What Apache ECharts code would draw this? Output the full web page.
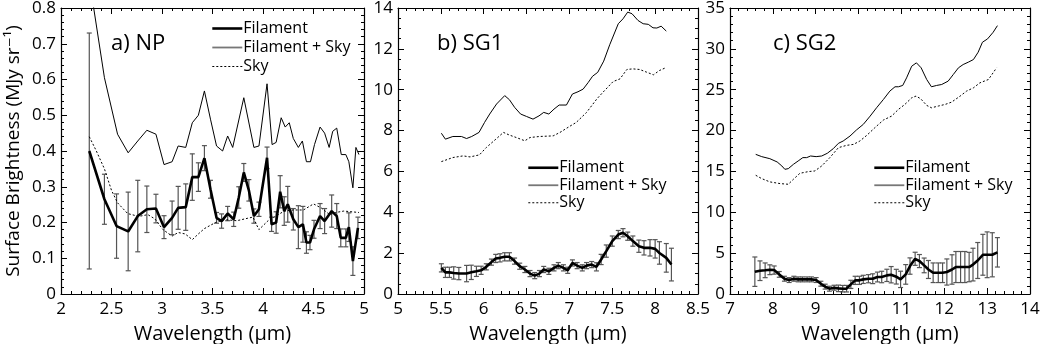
<!DOCTYPE html>
<html>
<head>
<meta charset="utf-8">
<script src="https://cdn.jsdelivr.net/npm/echarts@6/dist/echarts.min.js"></script>
<style>
html, body { margin: 0; padding: 0; background: #fff; }
#chart { width: 1040px; height: 344px; }
</style>
</head>
<body>
<div id="chart"></div>
<script>
// ---- a) NP ----
const npWl  = [2.28, 2.43, 2.55, 2.665, 2.76, 2.85, 2.94, 3.02, 3.10, 3.16, 3.235, 3.30, 3.36, 3.42, 3.48,
               3.54, 3.59, 3.65, 3.71, 3.76, 3.81, 3.86, 3.91, 3.96, 4.04, 4.085, 4.13, 4.17, 4.21, 4.245,
               4.30, 4.35, 4.395, 4.43, 4.465, 4.505, 4.565, 4.61, 4.68, 4.73, 4.77, 4.82, 4.85, 4.89, 4.94]
const npFil = [0.40, 0.265, 0.19, 0.175, 0.218, 0.237, 0.239, 0.187, 0.213, 0.241, 0.243, 0.327, 0.327, 0.38, 0.293,
               0.213, 0.204, 0.225, 0.209, 0.27, 0.34, 0.29, 0.218, 0.237, 0.381, 0.195, 0.20, 0.286, 0.232, 0.251,
               0.209, 0.187, 0.195, 0.144, 0.144, 0.181, 0.218, 0.204, 0.232, 0.218, 0.157, 0.157, 0.187, 0.092, 0.185]
const npErr = [0.33, 0.07, 0.09, 0.11, 0.10, 0.065, 0.04, 0.032, 0.047, 0.06, 0.065, 0.065, 0.04, 0.035, 0.025,
               0.015, 0.02, 0.02, 0.02, 0.03, 0.025, 0.03, 0.02, 0.02, 0.03, 0.02, 0.03, 0.045, 0.04, 0.05,
               0.03, 0.06, 0.05, 0.03, 0.02, 0.025, 0.035, 0.035, 0.045, 0.035, 0.025, 0.025, 0.04, 0.04, 0.03]
const npTotWl = [2.28, 2.43, 2.56, 2.665, 2.76, 2.85, 2.94, 3.02, 3.10, 3.16, 3.235, 3.30, 3.36, 3.42, 3.48,
                 3.54, 3.60, 3.65, 3.70, 3.81, 3.91, 3.96, 4.04, 4.09, 4.13, 4.18, 4.22, 4.26, 4.30, 4.35,
                 4.39, 4.43, 4.47, 4.51, 4.565, 4.61, 4.655, 4.69, 4.73, 4.775, 4.82, 4.85, 4.89, 4.92, 4.95]
const npTot = [0.88, 0.605, 0.447, 0.395, 0.428, 0.458, 0.447, 0.362, 0.37, 0.414, 0.41, 0.479, 0.50, 0.568, 0.489,
               0.414, 0.40, 0.442, 0.41, 0.549, 0.41, 0.414, 0.588, 0.418, 0.424, 0.493, 0.467, 0.479, 0.435, 0.41,
               0.428, 0.37, 0.37, 0.418, 0.467, 0.45, 0.41, 0.455, 0.464, 0.39, 0.39, 0.37, 0.297, 0.41, 0.39]
const npSkyWl = [2.28, 2.35, 2.43, 2.50, 2.56, 2.66, 2.77, 2.86, 2.93, 3.01, 3.10, 3.16, 3.23, 3.30, 3.36,
                 3.42, 3.53, 3.62, 3.74, 3.85, 3.90, 3.96, 4.05, 4.14, 4.21, 4.30, 4.40, 4.50, 4.58, 4.66,
                 4.72, 4.80, 4.95]
const npSky = [0.44, 0.40, 0.35, 0.29, 0.255, 0.225, 0.217, 0.222, 0.21, 0.18, 0.162, 0.172, 0.168, 0.152, 0.168,
               0.183, 0.20, 0.208, 0.205, 0.212, 0.215, 0.18, 0.205, 0.22, 0.232, 0.235, 0.235, 0.252, 0.24, 0.222,
               0.228, 0.232, 0.228]

// ---- b) SG1 ----
const sg1Wl  = [5.506, 5.553, 5.60, 5.65, 5.71, 5.80, 5.855, 5.915, 5.97, 6.03, 6.09, 6.14, 6.19, 6.245, 6.30,
                6.36, 6.42, 6.48, 6.54, 6.595, 6.65, 6.70, 6.76, 6.82, 6.87, 6.93, 6.98, 7.035, 7.09, 7.15,
                7.20, 7.26, 7.315, 7.37, 7.43, 7.50, 7.57, 7.625, 7.68, 7.74, 7.81, 7.87, 7.94, 8.0, 8.05,
                8.13, 8.19]
const sg1Fil = [1.28, 1.06, 1.06, 1.03, 1.0, 1.0, 1.06, 1.11, 1.16, 1.33, 1.56, 1.74, 1.77, 1.82, 1.82,
                1.61, 1.36, 1.20, 1.0, 0.90, 1.0, 1.20, 1.11, 1.28, 1.39, 1.28, 1.16, 1.52, 1.39, 1.28,
                1.39, 1.44, 1.33, 1.69, 2.10, 2.59, 2.91, 3.0, 2.83, 2.59, 2.34, 2.26, 2.26, 2.21, 2.01,
                1.77, 1.44]
const sg1Err = [0.2, 0.25, 0.25, 0.3, 0.3, 0.4, 0.35, 0.25, 0.2, 0.15, 0.15, 0.2, 0.2, 0.2, 0.2,
                0.15, 0.15, 0.15, 0.15, 0.15, 0.15, 0.15, 0.15, 0.15, 0.15, 0.15, 0.15, 0.15, 0.15, 0.15,
                0.15, 0.15, 0.2, 0.25, 0.3, 0.25, 0.2, 0.2, 0.2, 0.25, 0.3, 0.35, 0.4, 0.45, 0.55,
                0.7, 0.8]
const sg1TotWl = [5.506, 5.553, 5.64, 5.74, 5.80, 5.86, 5.945, 6.01, 6.07, 6.15, 6.245, 6.30, 6.36, 6.43, 6.50,
                  6.575, 6.645, 6.70, 6.76, 6.82, 6.88, 6.965, 7.035, 7.10, 7.16, 7.22, 7.27, 7.33, 7.40, 7.47,
                  7.57, 7.625, 7.68, 7.73, 7.80, 7.86, 7.92, 7.975, 8.02, 8.07, 8.13]
const sg1Tot = [7.87, 7.58, 7.71, 7.71, 7.61, 7.71, 7.91, 8.40, 8.81, 9.30, 9.71, 9.51, 9.14, 8.81, 8.69,
                8.56, 8.72, 8.89, 8.81, 9.05, 9.25, 9.25, 9.79, 9.90, 10.03, 10.36, 10.66, 10.85, 11.4, 12.2,
                13.23, 13.47, 13.8, 13.72, 13.39, 13.23, 13.2, 13.03, 13.02, 13.11, 12.87]
const sg1SkyWl = [5.506, 5.64, 5.76, 5.84, 5.95, 6.03, 6.15, 6.23, 6.30, 6.38, 6.48, 6.54, 6.65, 6.81, 6.89,
                  7.00, 7.08, 7.20, 7.32, 7.39, 7.51, 7.59, 7.67, 7.74, 7.82, 7.90, 7.98, 8.05, 8.12]
const sg1Sky = [6.48, 6.68, 6.76, 6.71, 6.81, 7.17, 7.61, 7.91, 7.78, 7.66, 7.50, 7.66, 7.71, 7.74, 7.91,
                8.2, 8.4, 8.89, 9.55, 9.87, 10.4, 10.53, 10.99, 11.02, 10.99, 10.86, 10.73, 10.94, 11.07]

// ---- c) SG2 ----
const sg2Wl  = [7.58, 7.70, 7.82, 7.93, 8.03, 8.15, 8.27, 8.38, 8.49, 8.59, 8.69, 8.80, 8.90, 9.01, 9.12,
                9.22, 9.32, 9.43, 9.53, 9.63, 9.72, 9.82, 9.92, 10.02, 10.11, 10.23, 10.33, 10.44, 10.54, 10.66,
                10.76, 10.88, 10.98, 11.10, 11.20, 11.32, 11.42, 11.53, 11.63, 11.74, 11.86, 11.96, 12.06, 12.18, 12.27,
                12.38, 12.48, 12.58, 12.67, 12.78, 12.90, 13.0, 13.12, 13.24]
const sg2Fil = [2.73, 2.85, 2.9, 2.97, 2.93, 2.4, 1.87, 1.71, 1.87, 1.79, 1.79, 1.79, 1.79, 1.71, 1.26,
                0.9, 0.65, 0.77, 0.69, 0.65, 0.65, 1.18, 1.67, 1.67, 1.79, 1.87, 1.87, 2.08, 2.08, 2.28,
                2.36, 2.12, 1.79, 2.40, 3.42, 4.31, 4.03, 3.50, 3.0, 2.6, 2.6, 2.6, 2.69, 3.0, 3.3,
                3.3, 3.3, 3.3, 3.6, 4.1, 4.8, 4.8, 4.8, 5.1]
const sg2Err = [1.8, 1.2, 0.9, 0.6, 0.5, 0.35, 0.3, 0.3, 0.3, 0.3, 0.3, 0.3, 0.3, 0.3, 0.3,
                0.3, 0.3, 0.3, 0.4, 0.4, 0.4, 0.5, 0.5, 0.5, 0.5, 0.5, 0.6, 0.6, 0.7, 0.75,
                1.0, 0.9, 1.0, 1.2, 1.0, 0.8, 0.8, 0.9, 1.1, 1.2, 1.2, 1.2, 1.6, 1.8, 1.9,
                1.9, 1.9, 1.8, 2.0, 2.2, 2.5, 2.8, 2.7, 1.8]
const sg2TotWl = [7.60, 7.74, 7.93, 8.10, 8.21, 8.28, 8.36, 8.48, 8.59, 8.70, 8.79, 8.88, 9.01, 9.14, 9.27,
                  9.41, 9.53, 9.64, 9.80, 9.95, 10.11, 10.27, 10.42, 10.58, 10.73, 10.85, 10.93, 11.03, 11.12, 11.24,
                  11.35, 11.46, 11.59, 11.70, 11.82, 11.94, 12.09, 12.21, 12.33, 12.44, 12.56, 12.68, 12.79, 12.89, 13.01,
                  13.14, 13.24]
const sg2Tot = [17.09, 16.81, 16.56, 16.16, 15.67, 15.26, 15.34, 15.87, 16.28, 16.69, 16.69, 16.89, 16.81, 16.89, 17.22,
                17.79, 18.44, 18.72, 19.33, 20.07, 20.76, 21.77, 22.79, 23.81, 24.83, 25.36, 25.36, 25.52, 26.45, 27.88,
                28.29, 27.68, 26.25, 25.36, 25.52, 25.64, 26.05, 26.86, 27.68, 28.08, 28.37, 28.69, 29.59, 30.81, 31.22,
                32.03, 32.84]
const sg2SkyWl = [7.60, 7.74, 7.93, 8.17, 8.36, 8.48, 8.63, 8.83, 8.98, 9.14, 9.33, 9.53, 9.72, 9.88, 10.03,
                  10.19, 10.38, 10.58, 10.77, 10.93, 11.08, 11.24, 11.34, 11.45, 11.59, 11.70, 11.86, 12.02, 12.17, 12.37,
                  12.52, 12.68, 12.83, 13.03, 13.22]
const sg2Sky = [14.53, 14.12, 13.72, 13.51, 13.43, 14.04, 14.77, 14.98, 15.06, 15.67, 16.69, 17.91, 18.19, 18.31, 18.72,
                19.41, 20.35, 21.29, 21.77, 22.59, 23.2, 24.01, 24.22, 23.89, 23.08, 22.79, 23.0, 23.2, 23.48, 24.22,
                24.83, 25.23, 25.84, 26.25, 27.68]

const panelLabels = ['a) NP', 'b) SG1', 'c) SG2']
const legendNames = ['Filament', 'Filament + Sky', 'Sky']

const FONT = '"Open Sans", "DejaVu Sans", sans-serif'

const zip = (xs, ys) => xs.map((x, i) => [x, ys[i]])
const errData = (xs, ys, es) => xs.map((x, i) => [x, ys[i] - es[i], ys[i] + es[i]])

const panels = [
  { wl: npWl, fil: npFil, err: npErr, totWl: npTotWl, tot: npTot, skyWl: npSkyWl, sky: npSky,
    grid: { left: 61, top: 8, width: 303, height: 286 },
    x: [2, 5, 0.5], y: [0, 0.8, 0.1], ySplit: 5,
    legend: { left: 206, top: 14, lh: 19 }, label: { left: 106, top: 28 } },
  { wl: sg1Wl, fil: sg1Fil, err: sg1Err, totWl: sg1TotWl, tot: sg1Tot, skyWl: sg1SkyWl, sky: sg1Sky,
    grid: { left: 398, top: 8, width: 300, height: 286 },
    x: [5, 8.5, 0.5], y: [0, 14, 2], ySplit: 4,
    legend: { left: 522, top: 154, lh: 17.5 }, label: { left: 432, top: 28 } },
  { wl: sg2Wl, fil: sg2Fil, err: sg2Err, totWl: sg2TotWl, tot: sg2Tot, skyWl: sg2SkyWl, sky: sg2Sky,
    grid: { left: 730, top: 8, width: 300, height: 286 },
    x: [7, 14, 1], y: [0, 35, 5], ySplit: 5,
    legend: { left: 868, top: 154, lh: 17.5 }, label: { left: 768, top: 28 } }
]

const lineCol = '#000'
const axisBase = {
  type: 'value',
  splitLine: { show: false },
  axisLine: { show: true, onZero: false, lineStyle: { color: lineCol, width: 1.2 } },
  axisTick: { show: true, inside: true, length: 6, lineStyle: { color: lineCol, width: 1 } },
  axisLabel: { fontSize: 17, color: '#000', fontFamily: FONT }
}

// legend entries: hide the marker dot, keep the line sample
const hiddenDot = { color: 'rgba(0,0,0,0)', borderWidth: 0, opacity: 0 }
const legendItems = [
  { name: legendNames[0], itemStyle: hiddenDot, lineStyle: { color: '#000', width: 2.6, type: 'solid' } },
  { name: legendNames[1], itemStyle: hiddenDot, lineStyle: { color: '#777', width: 1.8, type: 'solid' } },
  { name: legendNames[2], itemStyle: hiddenDot, lineStyle: { color: '#000', width: 1, type: [2, 2] } }
]

const grids = [], xAxes = [], yAxes = [], series = [], legends = [], titles = []

panels.forEach((p, i) => {
  grids.push(Object.assign({ outerBoundsMode: 'none', containLabel: false }, p.grid))

  // bottom + top x axes
  xAxes.push(Object.assign({}, axisBase, {
    gridIndex: i, position: 'bottom', min: p.x[0], max: p.x[1], interval: p.x[2],
    minorTick: { show: true, splitNumber: 5, length: 3, lineStyle: { color: lineCol } },
    axisLabel: Object.assign({}, axisBase.axisLabel, { margin: 7, showMinLabel: true, showMaxLabel: true }),
    name: 'Wavelength (µm)', nameLocation: 'middle', nameGap: 30, nameMoveOverlap: false,
    nameTextStyle: { fontSize: 20, color: '#000', fontFamily: FONT }
  }))
  xAxes.push(Object.assign({}, axisBase, {
    gridIndex: i, position: 'top', min: p.x[0], max: p.x[1], interval: p.x[2],
    minorTick: { show: true, splitNumber: 5, length: 3, lineStyle: { color: lineCol } },
    axisLabel: { show: false }
  }))

  // left + right y axes
  const yLeft = Object.assign({}, axisBase, {
    gridIndex: i, position: 'left', min: p.y[0], max: p.y[1], interval: p.y[2],
    minorTick: { show: true, splitNumber: p.ySplit, length: 3, lineStyle: { color: lineCol } },
    axisLabel: Object.assign({}, axisBase.axisLabel, { margin: 5, showMinLabel: true, showMaxLabel: true })
  })
  if (i === 0) {
    Object.assign(yLeft, {
      name: 'Surface Brightness (MJy sr⁻¹)', nameLocation: 'middle', nameRotate: 90, nameGap: 38,
      nameMoveOverlap: false,
      nameTextStyle: { fontSize: 19, color: '#000', fontFamily: FONT }
    })
  }
  yAxes.push(yLeft)
  yAxes.push(Object.assign({}, axisBase, {
    gridIndex: i, position: 'right', min: p.y[0], max: p.y[1], interval: p.y[2],
    minorTick: { show: true, splitNumber: p.ySplit, length: 3, lineStyle: { color: lineCol } },
    axisLabel: { show: false }
  }))

  const xi = 2 * i, yi = 2 * i

  series.push({
    name: 'err' + i, type: 'custom', xAxisIndex: xi, yAxisIndex: yi, clip: true, z: 2,
    data: errData(p.wl, p.fil, p.err),
    encode: { x: 0, y: [1, 2] },
    renderItem: function (params, api) {
      const x = api.value(0)
      const lo = api.coord([x, api.value(1)])
      const hi = api.coord([x, api.value(2)])
      const w = 2.5
      const st = { stroke: '#555', lineWidth: 1.2 }
      return {
        type: 'group',
        children: [
          { type: 'line', shape: { x1: lo[0], y1: lo[1], x2: hi[0], y2: hi[1] }, style: st },
          { type: 'line', shape: { x1: lo[0] - w, y1: lo[1], x2: lo[0] + w, y2: lo[1] }, style: st },
          { type: 'line', shape: { x1: hi[0] - w, y1: hi[1], x2: hi[0] + w, y2: hi[1] }, style: st }
        ]
      }
    }
  })
  series.push({
    name: 'Filament', type: 'line', xAxisIndex: xi, yAxisIndex: yi, z: 4,
    data: zip(p.wl, p.fil), symbol: 'none', animation: false,
    lineStyle: { color: '#000', width: 2.6 }, itemStyle: { color: '#000' }
  })
  series.push({
    name: 'Filament + Sky', type: 'line', xAxisIndex: xi, yAxisIndex: yi, z: 3,
    data: zip(p.totWl, p.tot), symbol: 'none', animation: false,
    lineStyle: { color: '#000', width: 1 }, itemStyle: { color: '#000' }
  })
  series.push({
    name: 'Sky', type: 'line', xAxisIndex: xi, yAxisIndex: yi, z: 3,
    data: zip(p.skyWl, p.sky), symbol: 'none', animation: false,
    lineStyle: { color: '#000', width: 1, type: [2, 2] }, itemStyle: { color: '#000' }
  })

  legends.push({
    show: true, orient: 'vertical', left: p.legend.left, top: p.legend.top,
    itemWidth: 30, itemHeight: 10, itemGap: 0, selectedMode: false,
    data: legendItems,
    textStyle: { fontSize: 16, color: '#000', fontFamily: FONT, lineHeight: p.legend.lh, padding: [0, 0, 0, -4] }
  })

  titles.push({
    text: panelLabels[i], left: p.label.left, top: p.label.top,
    textStyle: { fontSize: 22, fontWeight: 'normal', color: '#000', fontFamily: FONT }
  })
})

const chart = echarts.init(document.getElementById('chart'), null, { renderer: 'canvas' })
chart.setOption({
  animation: false,
  backgroundColor: '#fff',
  title: titles,
  grid: grids,
  xAxis: xAxes,
  yAxis: yAxes,
  legend: legends,
  tooltip: { show: false },
  series: series
})
</script>
</body>
</html>
